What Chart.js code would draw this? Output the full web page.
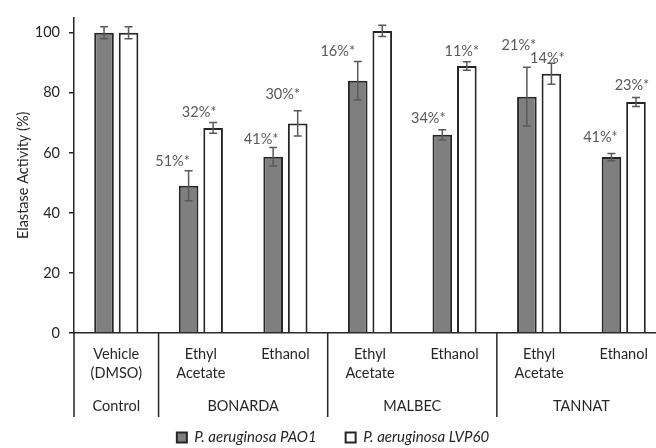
<!DOCTYPE html>
<html>
<head>
<meta charset="utf-8">
<script src="https://cdn.jsdelivr.net/npm/chart.js@4.4.1/dist/chart.umd.min.js"></script>
<style>
  html, body { margin: 0; padding: 0; background: #fff; overflow: hidden; width: 656px; height: 448px; }
  canvas { display: block; }
</style>
</head>
<body>
<canvas id="chart" width="680" height="448"></canvas>
<script>
// Treatments (x categories) and the wine groups they belong to
const categories = [["Vehicle", "(DMSO)"], ["Ethyl", "Acetate"], "Ethanol", ["Ethyl", "Acetate"], "Ethanol", ["Ethyl", "Acetate"], "Ethanol"];
const groupNames = ["Control", "BONARDA", "MALBEC", "TANNAT"];
const groupSizes = [1, 2, 2, 2];

// Elastase activity (%) with standard deviations
const seriesNames = ["P. aeruginosa PAO1", "P. aeruginosa LVP60"];
const pao1 = [100, 49.0, 58.7, 84.0, 66.0, 78.7, 58.6];
const pao1Err = [2.0, 5.0, 3.1, 6.4, 1.7, 9.8, 1.2];
const pao1Sig = [false, true, true, true, true, true, true];
const lvp60 = [100, 68.3, 69.8, 100.6, 88.9, 86.3, 76.9];
const lvp60Err = [2.0, 1.8, 4.2, 1.9, 1.4, 3.5, 1.5];
const lvp60Sig = [false, true, true, false, true, true, true];

const yTicks = [0, 20, 40, 60, 80, 100];

// Pixel nudges for the inhibition labels, relative to the top of each error bar
const labelNudge = [
  [null, [-16, -10], [-12, -8], [-20, -10], [-14, -11], [-8, -22], [-11, -16]],
  [null, [-14, -10], [-15, -16], null, [-5, -11], [-4, -5], [-4, -12]]
];

const INK = '#262626';
const FONT = 'Lato, "Open Sans", sans-serif';

const annotations = {
  id: 'annotations',
  afterDatasetsDraw(chart) {
    const ctx = chart.ctx;
    const y = chart.scales.y;
    chart.data.datasets.forEach((ds, di) => {
      const meta = chart.getDatasetMeta(di);
      meta.data.forEach((bar, i) => {
        const v = ds.data[i], e = ds.errors[i];
        const yt = y.getPixelForValue(v + e), yb = y.getPixelForValue(v - e);
        ctx.save();
        ctx.strokeStyle = '#595959';
        ctx.lineWidth = 1.5;
        ctx.beginPath();
        ctx.moveTo(bar.x, yt); ctx.lineTo(bar.x, yb);
        ctx.moveTo(bar.x - 4, yt); ctx.lineTo(bar.x + 4, yt);
        ctx.moveTo(bar.x - 4, yb); ctx.lineTo(bar.x + 4, yb);
        ctx.stroke();
        if (ds.sig[i]) {
          const n = labelNudge[di][i] || [0, -10];
          ctx.fillStyle = '#595959';
          ctx.font = '14.5px ' + FONT;
          ctx.textAlign = 'center';
          ctx.textBaseline = 'middle';
          ctx.fillText(Math.round(100 - v) + '%*', bar.x + n[0], yt + n[1]);
        }
        ctx.restore();
      });
    });
  },
  afterDraw(chart) {
    const ctx = chart.ctx;
    const x = chart.scales.x;
    const top = chart.chartArea.bottom;
    const step = x.getPixelForValue(1) - x.getPixelForValue(0);
    const edge = k => x.getPixelForValue(k) - step / 2;
    ctx.save();
    ctx.strokeStyle = INK;
    ctx.lineWidth = 1.5;
    ctx.fillStyle = INK;
    ctx.font = '14.5px ' + FONT;
    ctx.textAlign = 'center';
    ctx.textBaseline = 'middle';
    let k = 0;
    const bounds = [0];
    groupSizes.forEach(s => { k += s; bounds.push(k); });
    ctx.beginPath();
    bounds.forEach(b => { ctx.moveTo(edge(b), top); ctx.lineTo(edge(b), top + 84); });
    ctx.stroke();
    groupNames.forEach((g, gi) => {
      ctx.fillText(g, (edge(bounds[gi]) + edge(bounds[gi + 1])) / 2, top + 73);
    });
    ctx.restore();
  }
};

new Chart(document.getElementById('chart'), {
  type: 'bar',
  data: {
    labels: categories,
    datasets: [
      { label: seriesNames[0], data: pao1, errors: pao1Err, sig: pao1Sig,
        backgroundColor: '#7f7f7f', borderColor: INK, borderWidth: 2 },
      { label: seriesNames[1], data: lvp60, errors: lvp60Err, sig: lvp60Sig,
        backgroundColor: '#ffffff', borderColor: INK, borderWidth: 2 }
    ]
  },
  options: {
    responsive: false,
    animation: false,
    devicePixelRatio: 1,
    layout: { padding: { top: 14, right: 14, left: 0, bottom: 0 } },
    datasets: { bar: { categoryPercentage: 0.58, barPercentage: 0.8 } },
    plugins: {
      tooltip: { enabled: false },
      legend: {
        position: 'bottom',
        maxHeight: 47,
        labels: {
          boxWidth: 10, boxHeight: 10, padding: 29, color: INK,
          font: { family: FONT, size: 15, style: 'italic' }
        }
      }
    },
    scales: {
      x: {
        grid: { display: false, drawTicks: false },
        border: { display: true, color: INK, width: 1.5 },
        ticks: { color: INK, padding: 12, maxRotation: 0, autoSkip: false,
          font: { family: FONT, size: 14.5, lineHeight: 1.3 } },
        afterFit(s) { s.height = 68; }
      },
      y: {
        min: 0, max: 105,
        afterBuildTicks(s) { s.ticks = yTicks.map(v => ({ value: v })); },
        grid: { drawOnChartArea: false, drawTicks: true, tickLength: 5, color: INK, lineWidth: 1.5 },
        border: { display: true, color: INK, width: 1.5 },
        ticks: { color: INK, padding: 9, font: { family: FONT, size: 14.5 } },
        title: { display: true, text: 'Elastase Activity (%)', color: INK,
          font: { family: FONT, size: 14.5 }, padding: { top: 15, bottom: 0 } },
        afterFit(s) { s.width = 74; }
      }
    }
  },
  plugins: [annotations]
});
</script>
</body>
</html>
